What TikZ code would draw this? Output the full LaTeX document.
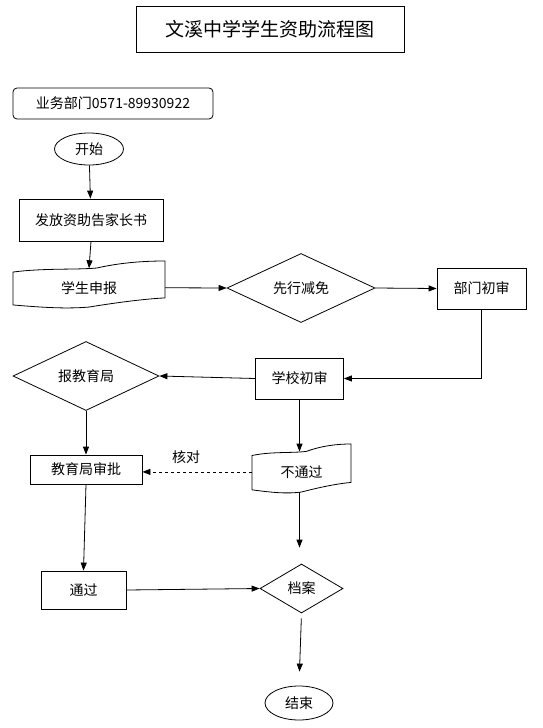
\documentclass[tikz,border=0pt]{standalone}
\usepackage{fontspec}
\setmainfont{Noto Sans CJK SC}
\usetikzlibrary{arrows.meta,shapes.geometric,positioning}

% wavy "document" outline round a named node
\newcommand{\tapeoutline}[4]{%
  \draw[line width=0.8pt,shift={(#1.center)},yshift=#4,xscale=#2,yscale=#3]
    (-1,-0.53) .. controls (-0.6,-0.7) and (-0.2,-0.62) .. (0.1,-0.7)
    .. controls (0.4,-0.92) and (0.7,-1) .. (1,-1) -- (1,0.57)
    .. controls (0.7,0.62) and (0.3,0.8) .. (0,0.96)
    .. controls (-0.3,1.04) and (-0.6,0.98) .. (-1,0.87) -- cycle;}

\begin{document}
\begin{tikzpicture}[x=1pt,y=-1pt,>={Triangle[length=8pt,width=6pt]}]
  \tikzstyle{box}=[draw,line width=0.8pt,inner sep=0pt,font=\fontsize{14}{16}\selectfont]
  \tikzstyle{term}=[box,ellipse]
  \tikzstyle{decide}=[box,diamond]
  \tikzstyle{doc}=[inner sep=0pt,font=\fontsize{14}{16}\selectfont]
  \tikzstyle{link}=[->,line width=0.8pt]
  \useasboundingbox (0,0) rectangle (543,728);
  % title and phone
  \node[box,line width=0.9pt,minimum width=268,minimum height=46,font=\fontsize{19}{22}\selectfont] (title) at (270,29) {文溪中学学生资助流程图};
  \node[box,rounded corners=4pt,minimum width=200,minimum height=31] (phone) at (113,103.5) {业务部门0571-89930922};
  % left column, top
  \node[term,minimum width=69,minimum height=32] (start) at (89,149) {开始};
  \node[box,minimum width=144,minimum height=42] (notice) at (91,220) {发放资助告家长书};
  \node[doc,minimum width=152,minimum height=38.5] (apply) at (89,287.75) {学生申报};
  \tapeoutline{apply}{76}{23.5}{3.25pt}
  % first row to the right
  \node[decide,minimum width=148,minimum height=62] (waive) at (301,288) {先行减免};
  \node[box,minimum width=89,minimum height=41] (dept) at (481.5,288.5) {部门初审};
  % second row
  \node[box,minimum width=88,minimum height=41] (school) at (299.5,378.5) {学校初审};
  \node[decide,minimum width=146,minimum height=46] (report) at (86,376) {报教育局};
  \node[box,minimum width=112,minimum height=29] (bureau) at (86,469.5) {教育局审批};
  \node[doc,minimum width=99,minimum height=40.2] (fail) at (301.5,471.9) {不通过};
  \tapeoutline{fail}{49.5}{24.5}{3.4pt}
  % bottom
  \node[box,minimum width=85,minimum height=38] (pass) at (83.5,590) {通过};
  \node[decide,minimum width=83,minimum height=49] (archive) at (301.5,588.5) {档案};
  \node[term,minimum width=68,minimum height=34] (end) at (299,703) {结束};
  % connectors
  \draw[link] (start) -- (notice);
  \draw[link] (notice.south) -- (apply.north);
  \draw[link] (apply.east) -- (waive.west);
  \draw[link] (waive.east) -- (dept.west);
  \draw[link] (dept.south) |- (school.east);
  \draw[link] (school.west) -- (report.east);
  \draw[link] (report.south) -- (bureau.north);
  \draw[link] (school.south) -- (school.south |- fail.north);
  \draw[link,dashed] (fail.west) -- (fail.west -| bureau.east)
    node[pos=0.6,above=5pt,font=\fontsize{14}{16}\selectfont] {核对};
  \draw[link] (bureau.south) -- (pass.north);
  \draw[link] (pass.east) -- (archive.west);
  \draw[link,shorten >=16pt] (fail.south -| school.south) -- (archive.north -| school.south);
  \draw[link,shorten <=5pt,shorten >=14pt] (archive.south) -- (end.north);
\end{tikzpicture}
\end{document}
